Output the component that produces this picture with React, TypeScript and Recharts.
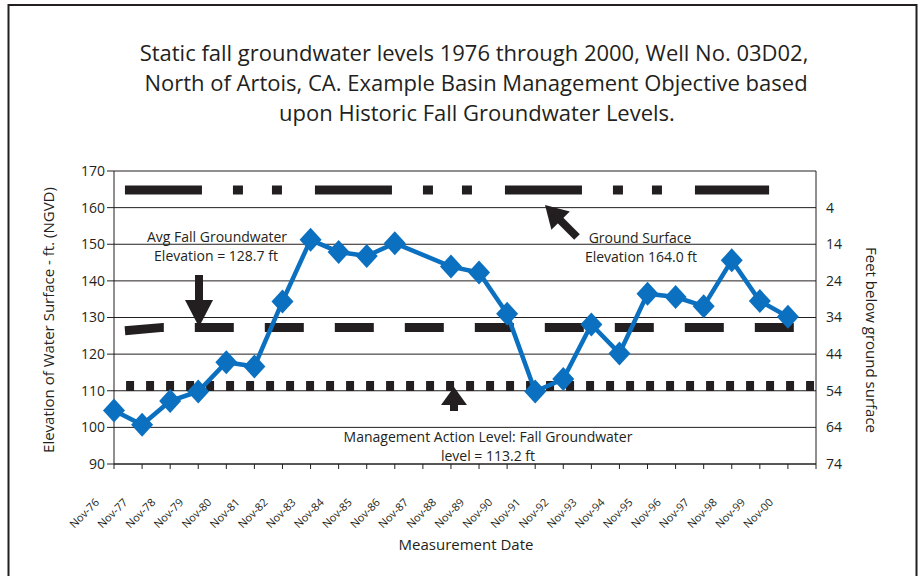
import React from "react";
import { LineChart, Line, XAxis, YAxis, CartesianGrid } from "recharts";

// ---- data ----
const dateLabels = [
  "Nov-76", "Nov-77", "Nov-78", "Nov-79", "Nov-80", "Nov-81", "Nov-82", "Nov-83",
  "Nov-84", "Nov-85", "Nov-86", "Nov-87", "Nov-88", "Nov-89", "Nov-90", "Nov-91",
  "Nov-92", "Nov-93", "Nov-94", "Nov-95", "Nov-96", "Nov-97", "Nov-98", "Nov-99", "Nov-00",
];
// index into dateLabels (1987 has no reading)
const levelIndex = [0, 1, 2, 3, 4, 5, 6, 7, 8, 9, 10, 12, 13, 14, 15, 16, 17, 18, 19, 20, 21, 22, 23, 24];
const levelValues = [
  104.6, 100.7, 107.2, 109.8, 117.8, 116.6, 134.4, 151.2, 147.9, 146.8, 150.3,
  143.9, 142.3, 131.0, 109.8, 113.2, 128.1, 120.2, 136.5, 135.6, 133.1, 145.6, 134.5, 130.2,
];
// drawn guide lines (x in category-index units)
// ground surface line, in feet below ground surface (right axis)
const groundX = [0.39, 23.33];
const groundDepth = [-0.8, -0.8];
const avgX = [0.39, 1.75, 24.36];
const avgY = [126.4, 127.3, 127.3];
const malX = [0.43, 24.93];
const malY = [111.3, 111.3];

const leftTicks = [90, 100, 110, 120, 130, 140, 150, 160, 170];
const rightTicks = [4, 14, 24, 34, 44, 54, 64, 74];
const xTicks = Array.from({ length: 26 }, (_, i) => i);

const titleLines = [
  "Static fall groundwater levels 1976 through 2000, Well No. 03D02,",
  "North of Artois, CA. Example Basin Management Objective based",
  "upon Historic Fall Groundwater Levels.",
];

const levelData = levelIndex.map((x, i) => ({ x, v: levelValues[i] }));
const groundData = groundX.map((x, i) => ({ x, g: groundDepth[i] }));
const avgData = avgX.map((x, i) => ({ x, a: avgY[i] }));
const malData = malX.map((x, i) => ({ x, m: malY[i] }));

const FONT = "'Open Sans', 'Noto Sans', sans-serif";
const INK = "#231f20";
const BLUE = "#0b70bf";

const Diamond = (props: any) => {
  const { cx, cy } = props;
  if (cx == null || cy == null) return null;
  return (
    <polygon
      points={`${cx},${cy - 12} ${cx + 11},${cy} ${cx},${cy + 12} ${cx - 11},${cy}`}
      fill={BLUE}
    />
  );
};

const XTick = (props: any) => {
  const { x, y, payload } = props;
  const label = dateLabels[payload.value];
  if (!label) return null;
  const tx = x - 14;
  const ty = y + 32;
  return (
    <text
      x={tx}
      y={ty}
      transform={`rotate(-45, ${tx}, ${ty})`}
      textAnchor="end"
      fontSize={11}
      fontFamily={FONT}
      fill={INK}
    >
      {label}
    </text>
  );
};

export default function App() {
  return (
    <div style={{ position: "absolute", left: 0, top: 0, width: 924, height: 576, background: "#fff" }}>
      <LineChart
        width={924}
        height={576}
        margin={{ top: 171, right: 0, bottom: 0, left: 0 }}
      >
        <CartesianGrid vertical={false} stroke={INK} strokeWidth={1} yAxisId="left" />
        <XAxis
          dataKey="x"
          type="number"
          domain={[0, 25]}
          ticks={xTicks}
          interval={0}
          height={112}
          tickSize={5}
          tick={<XTick />}
          stroke={INK}
        />
        <YAxis
          yAxisId="left"
          domain={[90, 170]}
          ticks={leftTicks}
          interval={0}
          width={114}
          tickSize={7}
          stroke={INK}
          tick={{ fill: INK, fontSize: 14, fontFamily: FONT }}
        />
        <YAxis
          yAxisId="right"
          orientation="right"
          domain={[-6, 74]}
          reversed
          ticks={rightTicks}
          interval={0}
          width={108}
          tickLine={false}
          tickMargin={4}
          stroke={INK}
          tick={{ fill: INK, fontSize: 14, fontFamily: FONT }}
        />
        <Line
          yAxisId="right"
          data={groundData}
          dataKey="g"
          stroke={INK}
          strokeWidth={9}
          strokeDasharray="77 31 10 29 10 33"
          dot={false}
          activeDot={false}
          isAnimationActive={false}
          type="linear"
        />
        <Line
          yAxisId="left"
          data={avgData}
          dataKey="a"
          stroke={INK}
          strokeWidth={9}
          strokeDasharray="39 31"
          dot={false}
          activeDot={false}
          isAnimationActive={false}
          type="linear"
        />
        <Line
          yAxisId="left"
          data={malData}
          dataKey="m"
          stroke={INK}
          strokeWidth={10}
          strokeDasharray="8 12"
          dot={false}
          activeDot={false}
          isAnimationActive={false}
          type="linear"
        />
        <Line
          yAxisId="left"
          data={levelData}
          dataKey="v"
          stroke={BLUE}
          strokeWidth={4.5}
          dot={<Diamond />}
          activeDot={false}
          isAnimationActive={false}
          type="linear"
        />
      </LineChart>
      <svg
        width={924}
        height={576}
        style={{ position: "absolute", left: 0, top: 0, pointerEvents: "none" }}
        fontFamily={FONT}
        fill={INK}
      >
        <rect x={8.5} y={5} width={908} height={620} fill="none" stroke={INK} strokeWidth={2} />
        <text x={474} y={61} fontSize={22} textAnchor="middle">{titleLines[0]}</text>
        <text x={476} y={91} fontSize={22} textAnchor="middle">{titleLines[1]}</text>
        <text x={477} y={121} fontSize={22} textAnchor="middle">{titleLines[2]}</text>

        <text x={217} y={242} fontSize={14} textAnchor="middle">Avg Fall Groundwater</text>
        <text x={216} y={261} fontSize={14} textAnchor="middle">Elevation = 128.7 ft</text>
        <rect x={195} y={275} width={8} height={26} fill={INK} />
        <polygon points="185,300 213,300 199,327" fill={INK} />

        <text x={640} y={243} fontSize={14} textAnchor="middle">Ground Surface</text>
        <text x={641} y={262} fontSize={14} textAnchor="middle">Elevation 164.0 ft</text>
        <line x1={557} y1={217} x2={577} y2={237} stroke={INK} strokeWidth={8} />
        <polygon points="545,205 551.4,229.8 569.8,211.4" fill={INK} />

        <text x={488} y={442} fontSize={14} textAnchor="middle">Management Action Level: Fall Groundwater</text>
        <text x={488} y={461} fontSize={14} textAnchor="middle">level = 113.2 ft</text>
        <polygon points="454,387 441,405 467,405" fill={INK} />
        <rect x={450} y={404} width={8} height={7} fill={INK} />

        <text
          x={54}
          y={320}
          fontSize={15}
          textAnchor="middle"
          transform="rotate(-90, 54, 320)"
        >
          Elevation of Water Surface - ft. (NGVD)
        </text>
        <text
          x={866}
          y={340}
          fontSize={15}
          textAnchor="middle"
          transform="rotate(90, 866, 340)"
        >
          Feet below ground surface
        </text>
        <text x={466} y={550} fontSize={15} textAnchor="middle">Measurement Date</text>
      </svg>
    </div>
  );
}
